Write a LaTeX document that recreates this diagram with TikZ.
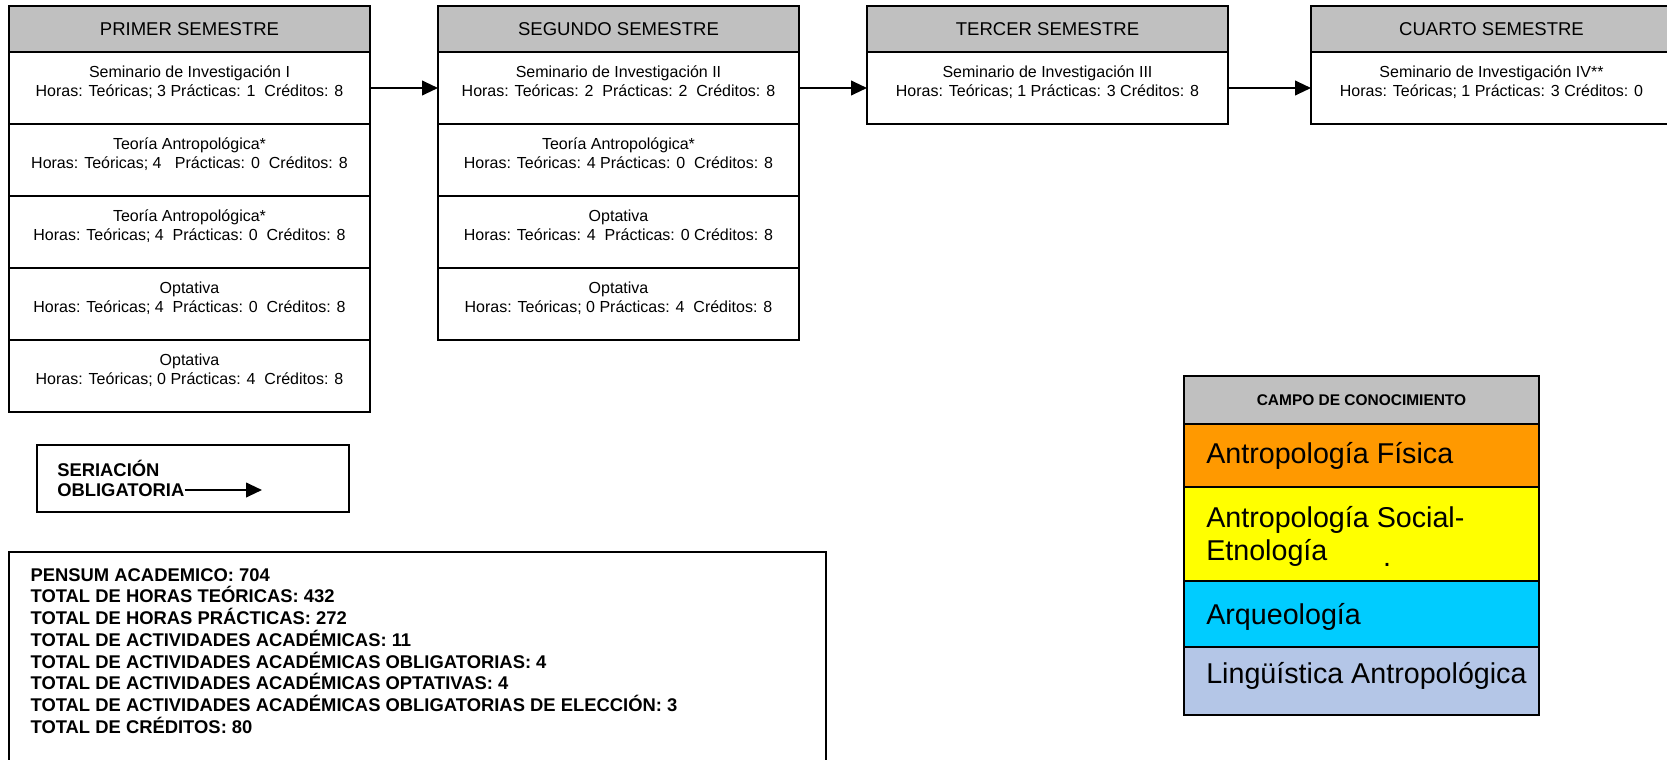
\documentclass[tikz,border=0pt]{standalone}
\usepackage{fontspec}
\setmainfont{Liberation Sans}
\usetikzlibrary{positioning,arrows.meta}

\definecolor{grisencab}{HTML}{C0C0C0}
\definecolor{naranja}{HTML}{FF9900}
\definecolor{amarillo}{HTML}{FFFF00}
\definecolor{celeste}{HTML}{00CCFF}
\definecolor{lavanda}{HTML}{B4C6E7}

\tikzset{
  marco/.style={draw, line width=1.5pt, inner sep=0pt, outer sep=0pt},
  semhead/.style={marco, fill=grisencab, minimum width=270.75pt, minimum height=34.5pt, font=\fontsize{13.9}{16}\selectfont},
  celda/.style={marco, fill=white, minimum width=270.75pt, minimum height=54pt},
  celdatxt/.style={align=center, inner sep=0pt, font=\fontsize{12}{14.25}\selectfont},
  negrita/.style={align=left, inner sep=0pt, font=\fontsize{13.8}{16.3}\selectfont\bfseries},
  campo/.style={marco, minimum width=266.25pt},
  campotxt/.style={align=left, inner sep=0pt, font=\fontsize{21.5}{24.75}\selectfont},
  seriado/.style={line width=1.5pt, -{Triangle[length=12pt,width=11pt]}},
}

\begin{document}
\begin{tikzpicture}[x=0.75pt,y=-0.75pt]
\useasboundingbox (0,0) rectangle (1667,760);

% encabezados de semestre
\foreach \c/\x/\titulo in {c1/9/PRIMER SEMESTRE,c2/438/SEGUNDO SEMESTRE,c3/867/TERCER SEMESTRE,c4/1311/CUARTO SEMESTRE}
  \node[semhead] (\c-0) at ({\x+180.5},29) {\titulo};

% primer semestre
\foreach[count=\i] \materia/\horas in {Seminario de Investigación I/Horas: Teóricas; 3 Prácticas: 1~ Créditos: 8,
  Teoría Antropológica*/Horas: Teóricas; 4~~ Prácticas: 0~ Créditos: 8,
  Teoría Antropológica*/Horas: Teóricas; 4~ Prácticas: 0~ Créditos: 8,
  Optativa/Horas: Teóricas; 4~ Prácticas: 0~ Créditos: 8,
  Optativa/Horas: Teóricas; 0 Prácticas: 4~ Créditos: 8}{
  \node[celda] (c1-\i) at (189.5,{16+72*\i}) {};
  \node[celdatxt, below=10pt of c1-\i.north] (c1t\i) {\materia\\\horas};
}

% segundo semestre
\foreach[count=\i] \materia/\horas in {Seminario de Investigación II/Horas: Teóricas: 2~ Prácticas: 2~ Créditos: 8,
  Teoría Antropológica*/Horas: Teóricas: 4 Prácticas: 0~ Créditos: 8,
  Optativa/Horas: Teóricas: 4~ Prácticas: 0 Créditos: 8,
  Optativa/Horas: Teóricas; 0 Prácticas: 4~ Créditos: 8}{
  \node[celda] (c2-\i) at (618.5,{16+72*\i}) {};
  \node[celdatxt, below=10pt of c2-\i.north] (c2t\i) {\materia\\\horas};
}

% tercer y cuarto semestre
\node[celda] (c3-1) at (1047.5,88) {};
\node[celdatxt, below=10pt of c3-1.north] (c3t1) {Seminario de Investigación III\\Horas: Teóricas; 1 Prácticas: 3 Créditos: 8};
\node[celda] (c4-1) at (1491.5,88) {};
\node[celdatxt, below=10pt of c4-1.north] (c4t1) {Seminario de Investigación IV**\\Horas: Teóricas; 1 Prácticas: 3 Créditos: 0};

% seriacion
\draw[seriado] (c1-1) -- (c2-1);
\draw[seriado] (c2-1) -- (c3-1);
\draw[seriado] (c3-1) -- (c4-1);

% recuadro de seriacion obligatoria
\node[marco, minimum width=234pt, minimum height=50.25pt] (serbox) at (193,478) {};
\node[negrita, anchor=west] (ser1) at (57,468) {SERIACIÓN};
\node[negrita, anchor=west] (ser2) at (57,490) {OBLIGATORIA};
\coordinate (serfin) at (262,490);
\draw[seriado] (ser2.east) -- (serfin);

% totales
\node[marco, anchor=north west, minimum width=612.75pt, minimum height=200pt] (totales) at (9,552) {};
\node[negrita, below right=12pt and 16pt of totales.north west] (totaltxt) {PENSUM ACADEMICO: 704\\
TOTAL DE HORAS TEÓRICAS: 432\\
TOTAL DE HORAS PRÁCTICAS: 272\\
TOTAL DE ACTIVIDADES ACADÉMICAS: 11\\
TOTAL DE ACTIVIDADES ACADÉMICAS OBLIGATORIAS: 4\\
TOTAL DE ACTIVIDADES ACADÉMICAS OPTATIVAS: 4\\
TOTAL DE ACTIVIDADES ACADÉMICAS OBLIGATORIAS DE ELECCIÓN: 3\\
TOTAL DE CRÉDITOS: 80};

% campo de conocimiento
\node[campo, fill=grisencab, minimum height=36pt, font=\fontsize{11.6}{14}\selectfont\bfseries] (campo) at (1361.5,400) {CAMPO DE CONOCIMIENTO};
\node[campo, fill=naranja, minimum height=47.25pt, below=0pt of campo] (fis) {};
\node[campo, fill=amarillo, minimum height=70.5pt, below=0pt of fis] (soc) {};
\node[campo, fill=celeste, minimum height=49.5pt, below=0pt of soc] (arq) {};
\node[campo, fill=lavanda, minimum height=51pt, below=0pt of arq] (lin) {};
\node[campotxt, right=16.5pt of fis.west] (fistxt) {Antropología Física};
\node[campotxt, right=16.5pt of soc.west, yshift=-2pt] (soctxt) {Antropología Social-\\Etnología};
\node[campotxt, right=16.5pt of arq.west, yshift=-2pt] (arqtxt) {Arqueología};
\node[campotxt, right=16.5pt of lin.west, yshift=3.5pt] (lintxt) {Lingüística Antropológica};
\node[campotxt] (punto) at (1387,565) {.};
\end{tikzpicture}
\end{document}
